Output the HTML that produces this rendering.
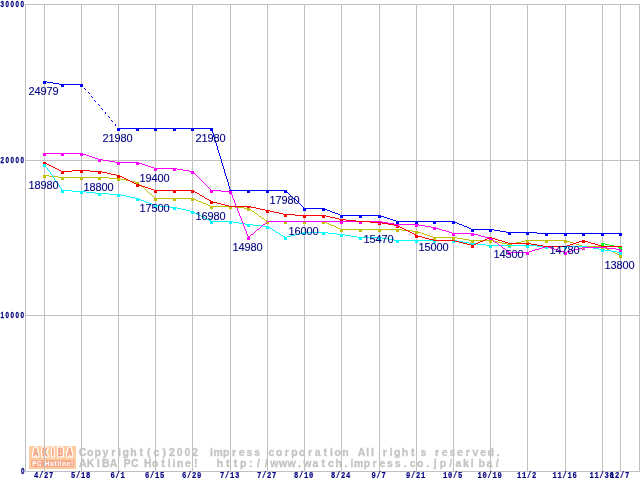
<!DOCTYPE html>
<html><head><meta charset="utf-8"><title>AKIBA PC Hotline! price chart</title>
<style>
html,body{margin:0;padding:0;background:#fff;overflow:hidden}
svg{display:block}
.ax{font-family:"Liberation Sans",sans-serif;font-weight:bold;font-size:8.4px;fill:#000080;stroke:#000080;stroke-width:0.25px;letter-spacing:2.0px}
.dl{font-family:"Liberation Sans",sans-serif;font-size:11px;letter-spacing:-0.12px;fill:#000080;text-anchor:middle;stroke:#000080;stroke-width:0.1px}
.wm{font-family:"Liberation Sans",sans-serif;font-weight:bold;font-size:10.5px;fill:#c4c4c4;stroke:#c4c4c4;stroke-width:0.3px}
.lg1{font-family:"Liberation Sans",sans-serif;font-weight:bold;font-size:10.6px;fill:#f4a888;stroke:#f4a888;stroke-width:0.9px;stroke-linejoin:miter;filter:url(#lgf)}
.lg2{font-family:"Liberation Sans",sans-serif;font-weight:bold;font-size:6.3px;fill:#fff;letter-spacing:0.7px}
.xm{font-family:"Liberation Mono",monospace;letter-spacing:0.84px;stroke-width:0.2px}
</style></head><body>
<svg width="640" height="480" viewBox="0 0 640 480">
<rect width="640" height="480" fill="#fff"/>
<defs><filter id="lgf" x="-5%" y="-30%" width="110%" height="160%"><feMorphology in="SourceAlpha" operator="dilate" radius="1.43 1" result="o"/><feFlood flood-color="#fff"/><feComposite in2="o" operator="in" result="w"/><feMerge><feMergeNode in="w"/><feMergeNode in="SourceGraphic"/></feMerge></filter></defs>
<g shape-rendering="crispEdges">
<rect x="29" y="446" width="47" height="23" fill="#ffcc9f"/>
<rect x="31" y="460" width="43" height="7" fill="#f6aa8c"/>
</g>
<text class="lg1" transform="translate(0,455.6) scale(0.7,1)" x="47.0 60.5 73.8 82.4 95.9" y="0">AKIBA</text>
<text class="lg2" x="32.2" y="465.8">PC Hotline!</text>
<text class="wm" x="78.7 86.9 94.6 102.6 111.2 118.0 122.5 130.2 139.4 147.1 153.6 162.5 169.0 176.7 184.4 192.1 201.3 210.0 213.5 223.1 232.0 238.8 246.5 254.2 263.3 268.5 275.9 284.8 291.3 299.0 307.9 314.7 323.6 330.1 334.6 342.3 351.8 357.8 366.3 371.1 377.4 382.8 389.6 394.1 401.8 411.0 420.5 429.7 434.9 441.7 449.4 457.1 465.7 472.5 480.2 487.6 496.8" y="455.7">Copyright(c)2002 impress corporation All rights reserved.</text>
<text class="wm" x="79.0 86.7 96.7 102.1 109.8 119.8 123.5 131.0 141.0 143.9 152.1 161.3 167.8 172.6 177.1 185.1 194.0 202.0 216.8 226.0 233.7 239.9 249.1 257.1 264.8 270.3 278.9 287.5 298.0 303.3 312.6 321.5 328.0 335.4 344.6 350.6 354.1 363.7 372.6 379.4 387.1 394.8 403.7 409.7 417.1 426.3 433.8 439.7 449.2 455.4 463.1 470.8 478.6 486.6 495.8" y="467">AKIBA PC Hotline! http://www.watch.impress.co.jp/akiba/</text>
<g fill="#c0c0c0" shape-rendering="crispEdges">
<rect x="25" y="4" width="1" height="468"/>
<rect x="639" y="4" width="1" height="468"/>
<rect x="44" y="4" width="1" height="468"/>
<rect x="81" y="4" width="1" height="468"/>
<rect x="118" y="4" width="1" height="468"/>
<rect x="155" y="4" width="1" height="468"/>
<rect x="192" y="4" width="1" height="468"/>
<rect x="230" y="4" width="1" height="468"/>
<rect x="267" y="4" width="1" height="468"/>
<rect x="304" y="4" width="1" height="468"/>
<rect x="341" y="4" width="1" height="468"/>
<rect x="379" y="4" width="1" height="468"/>
<rect x="416" y="4" width="1" height="468"/>
<rect x="453" y="4" width="1" height="468"/>
<rect x="490" y="4" width="1" height="468"/>
<rect x="527" y="4" width="1" height="468"/>
<rect x="565" y="4" width="1" height="468"/>
<rect x="602" y="4" width="1" height="468"/>
<rect x="620" y="4" width="1" height="468"/>
<rect x="25" y="4" width="615" height="1"/>
<rect x="25" y="160" width="615" height="1"/>
<rect x="25" y="315" width="615" height="1"/>
<rect x="25" y="471" width="615" height="1"/>
</g>
<g shape-rendering="crispEdges" fill="#0000ff">
<rect x="43" y="81" width="3" height="3"/>
<rect x="61" y="84" width="3" height="3"/>
<rect x="80" y="84" width="3" height="3"/>
<rect x="117" y="128" width="3" height="3"/>
<rect x="136" y="128" width="3" height="3"/>
<rect x="154" y="128" width="3" height="3"/>
<rect x="173" y="128" width="3" height="3"/>
<rect x="191" y="128" width="3" height="3"/>
<rect x="210" y="128" width="3" height="3"/>
<rect x="229" y="190" width="3" height="3"/>
<rect x="247" y="190" width="3" height="3"/>
<rect x="266" y="190" width="3" height="3"/>
<rect x="284" y="190" width="3" height="3"/>
<rect x="303" y="208" width="3" height="3"/>
<rect x="322" y="208" width="3" height="3"/>
<rect x="340" y="215" width="3" height="3"/>
<rect x="359" y="215" width="3" height="3"/>
<rect x="378" y="215" width="3" height="3"/>
<rect x="396" y="221" width="3" height="3"/>
<rect x="415" y="221" width="3" height="3"/>
<rect x="433" y="221" width="3" height="3"/>
<rect x="452" y="221" width="3" height="3"/>
<rect x="471" y="229" width="3" height="3"/>
<rect x="489" y="229" width="3" height="3"/>
<rect x="508" y="232" width="3" height="3"/>
<rect x="526" y="232" width="3" height="3"/>
<rect x="545" y="233" width="3" height="3"/>
<rect x="564" y="233" width="3" height="3"/>
<rect x="582" y="233" width="3" height="3"/>
<rect x="601" y="233" width="3" height="3"/>
<rect x="619" y="233" width="3" height="3"/>
</g>
<g shape-rendering="crispEdges" fill="#ff0000">
<rect x="43" y="162" width="3" height="3"/>
<rect x="61" y="171" width="3" height="3"/>
<rect x="80" y="170" width="3" height="3"/>
<rect x="98" y="171" width="3" height="3"/>
<rect x="117" y="175" width="3" height="3"/>
<rect x="136" y="184" width="3" height="3"/>
<rect x="154" y="190" width="3" height="3"/>
<rect x="173" y="190" width="3" height="3"/>
<rect x="191" y="190" width="3" height="3"/>
<rect x="210" y="201" width="3" height="3"/>
<rect x="229" y="206" width="3" height="3"/>
<rect x="247" y="206" width="3" height="3"/>
<rect x="266" y="210" width="3" height="3"/>
<rect x="284" y="214" width="3" height="3"/>
<rect x="303" y="215" width="3" height="3"/>
<rect x="322" y="215" width="3" height="3"/>
<rect x="340" y="219" width="3" height="3"/>
<rect x="359" y="221" width="3" height="3"/>
<rect x="378" y="222" width="3" height="3"/>
<rect x="396" y="225" width="3" height="3"/>
<rect x="415" y="235" width="3" height="3"/>
<rect x="433" y="240" width="3" height="3"/>
<rect x="452" y="240" width="3" height="3"/>
<rect x="471" y="245" width="3" height="3"/>
<rect x="489" y="237" width="3" height="3"/>
<rect x="508" y="243" width="3" height="3"/>
<rect x="526" y="243" width="3" height="3"/>
<rect x="545" y="246" width="3" height="3"/>
<rect x="564" y="246" width="3" height="3"/>
<rect x="582" y="240" width="3" height="3"/>
<rect x="601" y="246" width="3" height="3"/>
<rect x="619" y="246" width="3" height="3"/>
</g>
<g shape-rendering="crispEdges" fill="#ff00ff">
<rect x="43" y="153" width="3" height="3"/>
<rect x="61" y="153" width="3" height="3"/>
<rect x="80" y="153" width="3" height="3"/>
<rect x="98" y="159" width="3" height="3"/>
<rect x="117" y="162" width="3" height="3"/>
<rect x="136" y="162" width="3" height="3"/>
<rect x="154" y="168" width="3" height="3"/>
<rect x="173" y="168" width="3" height="3"/>
<rect x="191" y="171" width="3" height="3"/>
<rect x="210" y="190" width="3" height="3"/>
<rect x="229" y="191" width="3" height="3"/>
<rect x="247" y="237" width="3" height="3"/>
<rect x="266" y="221" width="3" height="3"/>
<rect x="284" y="221" width="3" height="3"/>
<rect x="303" y="221" width="3" height="3"/>
<rect x="322" y="221" width="3" height="3"/>
<rect x="340" y="221" width="3" height="3"/>
<rect x="359" y="221" width="3" height="3"/>
<rect x="378" y="221" width="3" height="3"/>
<rect x="396" y="224" width="3" height="3"/>
<rect x="415" y="224" width="3" height="3"/>
<rect x="433" y="227" width="3" height="3"/>
<rect x="452" y="233" width="3" height="3"/>
<rect x="471" y="233" width="3" height="3"/>
<rect x="489" y="238" width="3" height="3"/>
<rect x="508" y="252" width="3" height="3"/>
<rect x="526" y="252" width="3" height="3"/>
<rect x="545" y="246" width="3" height="3"/>
<rect x="564" y="252" width="3" height="3"/>
<rect x="582" y="247" width="3" height="3"/>
<rect x="601" y="247" width="3" height="3"/>
<rect x="619" y="249" width="3" height="3"/>
</g>
<g shape-rendering="crispEdges" fill="#00ffff">
<rect x="43" y="164" width="3" height="3"/>
<rect x="61" y="190" width="3" height="3"/>
<rect x="80" y="191" width="3" height="3"/>
<rect x="98" y="193" width="3" height="3"/>
<rect x="117" y="194" width="3" height="3"/>
<rect x="136" y="198" width="3" height="3"/>
<rect x="154" y="205" width="3" height="3"/>
<rect x="173" y="207" width="3" height="3"/>
<rect x="191" y="211" width="3" height="3"/>
<rect x="210" y="221" width="3" height="3"/>
<rect x="229" y="221" width="3" height="3"/>
<rect x="247" y="224" width="3" height="3"/>
<rect x="266" y="226" width="3" height="3"/>
<rect x="284" y="237" width="3" height="3"/>
<rect x="303" y="232" width="3" height="3"/>
<rect x="322" y="232" width="3" height="3"/>
<rect x="340" y="234" width="3" height="3"/>
<rect x="359" y="237" width="3" height="3"/>
<rect x="378" y="237" width="3" height="3"/>
<rect x="396" y="240" width="3" height="3"/>
<rect x="415" y="240" width="3" height="3"/>
<rect x="433" y="240" width="3" height="3"/>
<rect x="452" y="240" width="3" height="3"/>
<rect x="471" y="243" width="3" height="3"/>
<rect x="489" y="245" width="3" height="3"/>
<rect x="508" y="245" width="3" height="3"/>
<rect x="526" y="245" width="3" height="3"/>
<rect x="545" y="246" width="3" height="3"/>
<rect x="564" y="246" width="3" height="3"/>
<rect x="582" y="246" width="3" height="3"/>
<rect x="601" y="249" width="3" height="3"/>
<rect x="619" y="252" width="3" height="3"/>
</g>
<g shape-rendering="crispEdges" fill="#c0c000">
<rect x="43" y="175" width="3" height="3"/>
<rect x="61" y="177" width="3" height="3"/>
<rect x="80" y="177" width="3" height="3"/>
<rect x="98" y="177" width="3" height="3"/>
<rect x="117" y="178" width="3" height="3"/>
<rect x="136" y="182" width="3" height="3"/>
<rect x="154" y="198" width="3" height="3"/>
<rect x="173" y="198" width="3" height="3"/>
<rect x="191" y="198" width="3" height="3"/>
<rect x="210" y="206" width="3" height="3"/>
<rect x="229" y="206" width="3" height="3"/>
<rect x="247" y="208" width="3" height="3"/>
<rect x="266" y="221" width="3" height="3"/>
<rect x="284" y="221" width="3" height="3"/>
<rect x="303" y="221" width="3" height="3"/>
<rect x="322" y="221" width="3" height="3"/>
<rect x="340" y="229" width="3" height="3"/>
<rect x="359" y="229" width="3" height="3"/>
<rect x="378" y="229" width="3" height="3"/>
<rect x="396" y="229" width="3" height="3"/>
<rect x="415" y="231" width="3" height="3"/>
<rect x="433" y="237" width="3" height="3"/>
<rect x="452" y="237" width="3" height="3"/>
<rect x="471" y="240" width="3" height="3"/>
<rect x="489" y="240" width="3" height="3"/>
<rect x="508" y="244" width="3" height="3"/>
<rect x="526" y="240" width="3" height="3"/>
<rect x="545" y="240" width="3" height="3"/>
<rect x="564" y="240" width="3" height="3"/>
<rect x="582" y="246" width="3" height="3"/>
<rect x="601" y="246" width="3" height="3"/>
<rect x="619" y="255" width="3" height="3"/>
</g>
<g shape-rendering="crispEdges" fill="#00ff00">
<rect x="601" y="243" width="3" height="3"/>
<rect x="619" y="247" width="3" height="3"/>
</g>
<path shape-rendering="crispEdges" fill="#00ff00" d="M602 243h3v1h-3zM605 244h4v1h-4zM609 245h5v1h-5zM614 246h4v1h-4zM618 247h3v1h-3z"/>
<path shape-rendering="crispEdges" fill="#c0c000" d="M44 175h5v1h-5zM49 176h9v1h-9zM58 177h51v1h-51zM109 178h12v1h-12zM121 179h5v1h-5zM126 180h4v1h-4zM130 181h5v1h-5zM135 182h3v1h-3zM141 186h2v1h-2zM150 194h2v1h-2zM155 198h39v1h-39zM194 199h2v1h-2zM196 200h2v1h-2zM198 201h3v1h-3zM201 202h2v1h-2zM203 203h3v1h-3zM206 204h2v1h-2zM208 205h2v1h-2zM210 206h25v1h-25zM235 207h9v1h-9zM244 208h5v1h-5zM249 209h2v1h-2zM252 211h2v1h-2zM255 213h2v1h-2zM259 216h2v1h-2zM262 218h2v1h-2zM265 220h2v1h-2zM267 221h58v1h-58zM325 222h2v1h-2zM327 223h2v1h-2zM329 224h2v1h-2zM331 225h3v1h-3zM334 226h2v1h-2zM336 227h2v1h-2zM338 228h2v1h-2zM340 229h62v1h-62zM402 230h10v1h-10zM412 231h6v1h-6zM418 232h3v1h-3zM421 233h3v1h-3zM424 234h3v1h-3zM427 235h3v1h-3zM430 236h3v1h-3zM433 237h24v1h-24zM457 238h6v1h-6zM463 239h6v1h-6zM469 240h24v1h-24zM525 240h42v1h-42zM493 241h5v1h-5zM521 241h4v1h-4zM567 241h3v1h-3zM498 242h4v1h-4zM516 242h5v1h-5zM570 242h3v1h-3zM502 243h5v1h-5zM512 243h4v1h-4zM573 243h3v1h-3zM507 244h5v1h-5zM576 244h3v1h-3zM579 245h3v1h-3zM582 246h21v1h-21zM603 247h2v1h-2zM605 248h2v1h-2zM607 249h2v1h-2zM609 250h2v1h-2zM611 251h2v1h-2zM613 252h2v1h-2zM615 253h2v1h-2zM617 254h2v1h-2zM619 255h2v1h-2zM138 183h1v1h-1zM139 184h1v1h-1zM140 185h1v1h-1zM143 187h1v1h-1zM144 188h1v1h-1zM145 189h1v1h-1zM146 190h1v1h-1zM147 191h1v1h-1zM148 192h1v1h-1zM149 193h1v1h-1zM152 195h1v1h-1zM153 196h1v1h-1zM154 197h1v1h-1zM251 210h1v1h-1zM254 212h1v1h-1zM257 214h1v1h-1zM258 215h1v1h-1zM261 217h1v1h-1zM264 219h1v1h-1z"/>
<path shape-rendering="crispEdges" fill="#00ffff" d="M62 190h10v1h-10zM72 191h14v1h-14zM86 192h9v1h-9zM95 193h14v1h-14zM109 194h12v1h-12zM121 195h5v1h-5zM126 196h4v1h-4zM130 197h5v1h-5zM135 198h4v1h-4zM139 199h2v1h-2zM141 200h3v1h-3zM144 201h2v1h-2zM146 202h3v1h-3zM149 203h3v1h-3zM152 204h2v1h-2zM154 205h6v1h-6zM160 206h10v1h-10zM170 207h7v1h-7zM177 208h4v1h-4zM181 209h5v1h-5zM186 210h4v1h-4zM190 211h3v1h-3zM193 212h2v1h-2zM195 213h2v1h-2zM197 214h2v1h-2zM199 215h2v1h-2zM201 216h2v1h-2zM203 217h2v1h-2zM205 218h2v1h-2zM207 219h2v1h-2zM209 220h2v1h-2zM211 221h22v1h-22zM233 222h6v1h-6zM239 223h6v1h-6zM245 224h8v1h-8zM253 225h10v1h-10zM263 226h5v1h-5zM268 227h2v1h-2zM270 228h2v1h-2zM273 230h2v1h-2zM276 232h2v1h-2zM303 232h25v1h-25zM278 233h2v1h-2zM299 233h4v1h-4zM328 233h9v1h-9zM295 234h4v1h-4zM337 234h8v1h-8zM281 235h2v1h-2zM291 235h4v1h-4zM345 235h6v1h-6zM283 236h2v1h-2zM287 236h4v1h-4zM351 236h6v1h-6zM285 237h2v1h-2zM357 237h25v1h-25zM382 238h6v1h-6zM388 239h6v1h-6zM394 240h63v1h-63zM457 241h6v1h-6zM463 242h6v1h-6zM469 243h8v1h-8zM477 244h9v1h-9zM486 245h51v1h-51zM537 246h50v1h-50zM587 247h6v1h-6zM593 248h6v1h-6zM599 249h6v1h-6zM605 250h6v1h-6zM611 251h6v1h-6zM617 252h4v1h-4zM44 164h1v1h-1zM45 165h1v2h-1zM46 167h1v1h-1zM47 168h1v2h-1zM48 170h1v1h-1zM49 171h1v1h-1zM50 172h1v2h-1zM51 174h1v1h-1zM52 175h1v2h-1zM53 177h1v1h-1zM54 178h1v2h-1zM55 180h1v1h-1zM56 181h1v2h-1zM57 183h1v1h-1zM58 184h1v1h-1zM59 185h1v2h-1zM60 187h1v1h-1zM61 188h1v2h-1zM272 229h1v1h-1zM275 231h1v1h-1zM280 234h1v1h-1z"/>
<path shape-rendering="crispEdges" fill="#ff00ff" d="M44 153h39v1h-39zM83 154h3v1h-3zM86 155h3v1h-3zM89 156h3v1h-3zM92 157h3v1h-3zM95 158h3v1h-3zM98 159h5v1h-5zM103 160h6v1h-6zM109 161h6v1h-6zM115 162h24v1h-24zM139 163h3v1h-3zM142 164h3v1h-3zM145 165h3v1h-3zM148 166h3v1h-3zM151 167h3v1h-3zM154 168h23v1h-23zM177 169h6v1h-6zM183 170h6v1h-6zM189 171h4v1h-4zM211 190h10v1h-10zM221 191h10v1h-10zM267 221h115v1h-115zM382 222h6v1h-6zM388 223h6v1h-6zM263 224h2v1h-2zM394 224h25v1h-25zM419 225h6v1h-6zM425 226h6v1h-6zM431 227h5v1h-5zM436 228h3v1h-3zM257 229h2v1h-2zM439 229h3v1h-3zM442 230h4v1h-4zM446 231h3v1h-3zM449 232h3v1h-3zM452 233h22v1h-22zM251 234h2v1h-2zM474 234h4v1h-4zM478 235h3v1h-3zM248 236h2v1h-2zM481 236h4v1h-4zM485 237h4v1h-4zM489 238h2v1h-2zM491 239h2v1h-2zM495 242h2v1h-2zM499 245h2v1h-2zM545 246h3v1h-3zM542 247h3v1h-3zM548 247h3v1h-3zM582 247h25v1h-25zM503 248h2v1h-2zM539 248h3v1h-3zM551 248h3v1h-3zM578 248h4v1h-4zM607 248h9v1h-9zM535 249h4v1h-4zM554 249h4v1h-4zM574 249h4v1h-4zM616 249h5v1h-5zM532 250h3v1h-3zM558 250h3v1h-3zM571 250h3v1h-3zM507 251h2v1h-2zM529 251h3v1h-3zM561 251h3v1h-3zM567 251h4v1h-4zM509 252h20v1h-20zM564 252h3v1h-3zM193 172h1v1h-1zM194 173h1v1h-1zM195 174h1v1h-1zM196 175h1v1h-1zM197 176h1v1h-1zM198 177h1v1h-1zM199 178h1v1h-1zM200 179h1v1h-1zM201 180h1v1h-1zM202 181h1v1h-1zM203 182h1v1h-1zM204 183h1v1h-1zM205 184h1v1h-1zM206 185h1v1h-1zM207 186h1v1h-1zM208 187h1v1h-1zM209 188h1v1h-1zM210 189h1v1h-1zM230 192h1v1h-1zM231 193h1v2h-1zM232 195h1v3h-1zM233 198h1v2h-1zM234 200h1v3h-1zM235 203h1v3h-1zM236 206h1v2h-1zM237 208h1v3h-1zM238 211h1v2h-1zM239 213h1v3h-1zM240 216h1v2h-1zM241 218h1v3h-1zM242 221h1v2h-1zM266 222h1v1h-1zM243 223h1v3h-1zM265 223h1v1h-1zM262 225h1v1h-1zM244 226h1v3h-1zM261 226h1v1h-1zM260 227h1v1h-1zM259 228h1v1h-1zM245 229h1v2h-1zM256 230h1v1h-1zM246 231h1v3h-1zM255 231h1v1h-1zM254 232h1v1h-1zM253 233h1v1h-1zM247 234h1v2h-1zM250 235h1v1h-1zM248 237h1v1h-1zM493 240h1v1h-1zM494 241h1v1h-1zM497 243h1v1h-1zM498 244h1v1h-1zM501 246h1v1h-1zM502 247h1v1h-1zM505 249h1v1h-1zM506 250h1v1h-1z"/>
<path shape-rendering="crispEdges" fill="#ff0000" d="M45 163h2v1h-2zM47 164h2v1h-2zM49 165h2v1h-2zM51 166h2v1h-2zM53 167h2v1h-2zM55 168h2v1h-2zM57 169h2v1h-2zM59 170h2v1h-2zM72 170h18v1h-18zM61 171h11v1h-11zM90 171h12v1h-12zM102 172h5v1h-5zM107 173h4v1h-4zM111 174h5v1h-5zM116 175h4v1h-4zM120 176h2v1h-2zM122 177h2v1h-2zM124 178h2v1h-2zM126 179h2v1h-2zM128 180h2v1h-2zM130 181h2v1h-2zM132 182h2v1h-2zM134 183h2v1h-2zM136 184h3v1h-3zM139 185h3v1h-3zM142 186h3v1h-3zM145 187h3v1h-3zM148 188h3v1h-3zM151 189h3v1h-3zM154 190h39v1h-39zM193 191h2v1h-2zM195 192h2v1h-2zM197 193h2v1h-2zM200 195h2v1h-2zM202 196h2v1h-2zM205 198h2v1h-2zM207 199h2v1h-2zM209 200h2v1h-2zM211 201h2v1h-2zM213 202h4v1h-4zM217 203h4v1h-4zM221 204h4v1h-4zM225 205h4v1h-4zM229 206h22v1h-22zM251 207h5v1h-5zM256 208h4v1h-4zM260 209h5v1h-5zM265 210h5v1h-5zM270 211h4v1h-4zM274 212h5v1h-5zM279 213h4v1h-4zM283 214h12v1h-12zM295 215h31v1h-31zM326 216h4v1h-4zM330 217h5v1h-5zM335 218h4v1h-4zM339 219h7v1h-7zM346 220h10v1h-10zM356 221h14v1h-14zM370 222h12v1h-12zM382 223h6v1h-6zM388 224h6v1h-6zM394 225h4v1h-4zM398 226h2v1h-2zM400 227h2v1h-2zM402 228h2v1h-2zM404 229h2v1h-2zM406 230h2v1h-2zM408 231h2v1h-2zM410 232h2v1h-2zM412 233h2v1h-2zM414 234h2v1h-2zM416 235h2v1h-2zM418 236h4v1h-4zM422 237h3v1h-3zM489 237h3v1h-3zM425 238h4v1h-4zM487 238h2v1h-2zM492 238h3v1h-3zM429 239h4v1h-4zM485 239h2v1h-2zM495 239h3v1h-3zM433 240h22v1h-22zM483 240h2v1h-2zM498 240h4v1h-4zM582 240h3v1h-3zM455 241h4v1h-4zM480 241h3v1h-3zM502 241h3v1h-3zM579 241h3v1h-3zM585 241h3v1h-3zM459 242h4v1h-4zM478 242h2v1h-2zM505 242h3v1h-3zM576 242h3v1h-3zM588 242h3v1h-3zM463 243h4v1h-4zM476 243h2v1h-2zM508 243h23v1h-23zM573 243h3v1h-3zM591 243h4v1h-4zM467 244h4v1h-4zM474 244h2v1h-2zM531 244h6v1h-6zM570 244h3v1h-3zM595 244h3v1h-3zM471 245h3v1h-3zM537 245h6v1h-6zM567 245h3v1h-3zM598 245h3v1h-3zM543 246h24v1h-24zM601 246h20v1h-20zM44 162h1v1h-1zM199 194h1v1h-1zM204 197h1v1h-1z"/>
<path shape-rendering="crispEdges" fill="#0000ff" d="M44 81h3v1h-3zM47 82h6v1h-6zM53 83h6v1h-6zM59 84h23v1h-23zM118 128h94v1h-94zM230 190h56v1h-56zM294 199h2v1h-2zM304 208h21v1h-21zM325 209h2v1h-2zM327 210h3v1h-3zM330 211h2v1h-2zM332 212h3v1h-3zM335 213h3v1h-3zM338 214h2v1h-2zM340 215h41v1h-41zM381 216h3v1h-3zM384 217h3v1h-3zM387 218h3v1h-3zM390 219h3v1h-3zM393 220h3v1h-3zM396 221h59v1h-59zM455 222h2v1h-2zM457 223h2v1h-2zM459 224h3v1h-3zM462 225h2v1h-2zM464 226h3v1h-3zM467 227h2v1h-2zM469 228h2v1h-2zM471 229h23v1h-23zM494 230h6v1h-6zM500 231h6v1h-6zM506 232h31v1h-31zM537 233h84v1h-84zM82 85h1v1h-1zM84 88h1v1h-1zM85 89h1v1h-1zM88 92h1v1h-1zM89 93h1v1h-1zM91 96h1v1h-1zM92 97h1v1h-1zM94 100h1v1h-1zM95 101h1v1h-1zM98 104h1v1h-1zM99 105h1v1h-1zM101 108h1v1h-1zM102 109h1v1h-1zM105 112h1v2h-1zM108 116h1v1h-1zM109 117h1v1h-1zM111 120h1v1h-1zM112 121h1v1h-1zM115 124h1v2h-1zM211 129h1v1h-1zM212 130h1v3h-1zM213 133h1v4h-1zM214 137h1v3h-1zM215 140h1v3h-1zM216 143h1v3h-1zM217 146h1v4h-1zM218 150h1v3h-1zM219 153h1v3h-1zM220 156h1v3h-1zM221 159h1v4h-1zM222 163h1v3h-1zM223 166h1v3h-1zM224 169h1v4h-1zM225 173h1v3h-1zM226 176h1v3h-1zM227 179h1v3h-1zM228 182h1v4h-1zM229 186h1v3h-1zM230 189h1v1h-1zM286 191h1v1h-1zM287 192h1v1h-1zM288 193h1v1h-1zM289 194h1v1h-1zM290 195h1v1h-1zM291 196h1v1h-1zM292 197h1v1h-1zM293 198h1v1h-1zM296 200h1v1h-1zM297 201h1v1h-1zM298 202h1v1h-1zM299 203h1v1h-1zM300 204h1v1h-1zM301 205h1v1h-1zM302 206h1v1h-1zM303 207h1v1h-1z"/>
<text class="dl" x="43.5" y="95.1">24979</text>
<text class="dl" x="117.5" y="142.1">21980</text>
<text class="dl" x="210.5" y="142.1">21980</text>
<text class="dl" x="43.5" y="189.1">18980</text>
<text class="dl" x="98.5" y="190.6">18800</text>
<text class="dl" x="154.5" y="182.1">19400</text>
<text class="dl" x="154.5" y="211.6">17500</text>
<text class="dl" x="210.5" y="219.8">16980</text>
<text class="dl" x="247.5" y="250.6">14980</text>
<text class="dl" x="284.5" y="204.2">17980</text>
<text class="dl" x="303.5" y="235.1">16000</text>
<text class="dl" x="378.5" y="242.9">15470</text>
<text class="dl" x="433.5" y="251.1">15000</text>
<text class="dl" x="508.5" y="258.1">14500</text>
<text class="dl" x="564.5" y="254.0">14780</text>
<text class="dl" x="619.5" y="269.1">13800</text>
<text class="ax" transform="translate(0.5,7) scale(0.75,1)">30000</text>
<text class="ax" transform="translate(0.5,163) scale(0.75,1)">20000</text>
<text class="ax" transform="translate(0.5,318) scale(0.75,1)">10000</text>
<text class="ax" transform="translate(20.9,474) scale(0.75,1)">0</text>
<text class="ax xm" transform="translate(34.1,478) scale(0.85,1)">4/27</text>
<text class="ax xm" transform="translate(71.1,478) scale(0.85,1)">5/18</text>
<text class="ax xm" transform="translate(110.6,478) scale(0.85,1)">6/1</text>
<text class="ax xm" transform="translate(145.1,478) scale(0.85,1)">6/15</text>
<text class="ax xm" transform="translate(182.1,478) scale(0.85,1)">6/29</text>
<text class="ax xm" transform="translate(220.1,478) scale(0.85,1)">7/13</text>
<text class="ax xm" transform="translate(257.1,478) scale(0.85,1)">7/27</text>
<text class="ax xm" transform="translate(294.1,478) scale(0.85,1)">8/10</text>
<text class="ax xm" transform="translate(331.1,478) scale(0.85,1)">8/24</text>
<text class="ax xm" transform="translate(371.6,478) scale(0.85,1)">9/7</text>
<text class="ax xm" transform="translate(406.1,478) scale(0.85,1)">9/21</text>
<text class="ax xm" transform="translate(443.1,478) scale(0.85,1)">10/5</text>
<text class="ax xm" transform="translate(477.6,478) scale(0.85,1)">10/19</text>
<text class="ax xm" transform="translate(517.1,478) scale(0.85,1)">11/2</text>
<text class="ax xm" transform="translate(552.6,478) scale(0.85,1)">11/16</text>
<text class="ax xm" transform="translate(589.6,478) scale(0.85,1)">11/30</text>
<text class="ax xm" transform="translate(610.1,478) scale(0.85,1)">12/7</text>
</svg>
</body></html>
